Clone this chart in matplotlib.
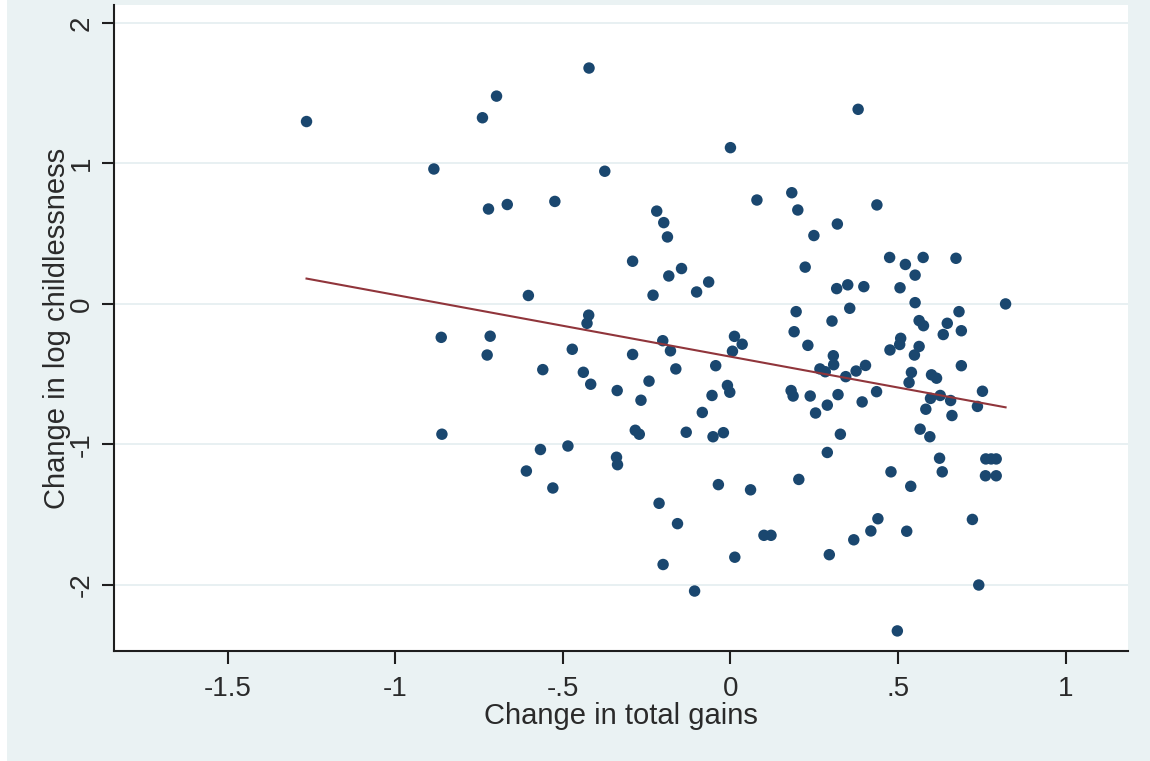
import numpy as np
import matplotlib
matplotlib.use("Agg")
import matplotlib.pyplot as plt
from matplotlib.patches import Rectangle

# ---- data ----
gains = [
    -1.265, -0.422, -0.698, -0.740, 0.000, 0.381, -0.885, -0.375, -0.722, -0.666,
    -0.524, 0.079, -0.220, -0.199, -0.188, -0.292, -0.146, -0.184, -0.065, -0.101,
    -0.231, -0.603, -0.423, -0.428, -0.863, -0.717, -0.726, -0.472, -0.292, -0.202,
    -0.179, 0.012, 0.035, 0.006, -0.044, -0.163, -0.560, -0.439, -0.417, -0.338,
    -0.243, -0.267, -0.009, -0.002, -0.055, -0.084, -0.284, -0.272, -0.132, -0.052,
    -0.021, -0.861, -0.567, -0.485, -0.609, -0.530, -0.340, -0.337, -0.036, 0.060,
    -0.213, -0.158, 0.100, 0.121, 0.013, -0.201, -0.107, 0.183, 0.201, 0.437,
    0.319, 0.249, 0.223, 0.475, 0.522, 0.575, 0.673, 0.551, 0.317, 0.350,
    0.398, 0.506, 0.551, 0.821, 0.196, 0.356, 0.303, 0.682, 0.563, 0.576,
    0.647, 0.190, 0.635, 0.689, 0.231, 0.508, 0.505, 0.476, 0.563, 0.549,
    0.307, 0.308, 0.267, 0.283, 0.344, 0.375, 0.403, 0.689, 0.540, 0.533,
    0.600, 0.615, 0.181, 0.187, 0.238, 0.321, 0.289, 0.254, 0.393, 0.436,
    0.597, 0.626, 0.657, 0.752, 0.737, 0.583, 0.661, 0.328, 0.289, 0.204,
    0.566, 0.595, 0.624, 0.632, 0.479, 0.538, 0.762, 0.778, 0.793, 0.761,
    0.793, 0.440, 0.419, 0.368, 0.295, 0.526, 0.722, 0.741, 0.498,
]
childless = [
    1.298, 1.679, 1.479, 1.325, 1.112, 1.385, 0.960, 0.944, 0.675, 0.707,
    0.729, 0.739, 0.660, 0.578, 0.476, 0.303, 0.251, 0.198, 0.155, 0.084,
    0.061, 0.059, -0.081, -0.139, -0.239, -0.231, -0.365, -0.324, -0.361, -0.263,
    -0.335, -0.232, -0.288, -0.338, -0.441, -0.464, -0.469, -0.488, -0.573, -0.618,
    -0.551, -0.687, -0.582, -0.630, -0.653, -0.774, -0.901, -0.929, -0.915, -0.947,
    -0.918, -0.929, -1.038, -1.013, -1.191, -1.312, -1.093, -1.146, -1.288, -1.325,
    -1.421, -1.566, -1.649, -1.649, -1.805, -1.857, -2.046, 0.791, 0.668, 0.704,
    0.568, 0.486, 0.261, 0.330, 0.280, 0.330, 0.324, 0.204, 0.108, 0.135,
    0.122, 0.114, 0.008, -0.001, -0.056, -0.032, -0.123, -0.056, -0.120, -0.156,
    -0.139, -0.199, -0.219, -0.192, -0.296, -0.246, -0.290, -0.329, -0.304, -0.365,
    -0.370, -0.434, -0.464, -0.484, -0.519, -0.479, -0.439, -0.441, -0.489, -0.561,
    -0.506, -0.530, -0.618, -0.657, -0.657, -0.647, -0.722, -0.778, -0.699, -0.626,
    -0.674, -0.653, -0.689, -0.623, -0.731, -0.751, -0.796, -0.929, -1.059, -1.251,
    -0.893, -0.947, -1.100, -1.197, -1.197, -1.300, -1.105, -1.105, -1.105, -1.225,
    -1.225, -1.531, -1.618, -1.681, -1.787, -1.620, -1.536, -2.003, -2.330,
]
xtick_vals = [-1.5, -1, -0.5, 0, 0.5, 1]
xtick_labels = ["-1.5", "-1", "-.5", "0", ".5", "1"]
ytick_vals = [-2, -1, 0, 1, 2]
ytick_labels = ["-2", "-1", "0", "1", "2"]
xlabel = "Change in total gains"
ylabel = "Change in log childlessness"

# ---- styling ----
plt.rcParams['font.family'] = ['Liberation Sans', 'DejaVu Sans']
BG = "#EAF2F3"
NAVY = "#1a476f"
MAROON = "#90353b"
TXT = "#2a2a2a"

W, H = 1150, 761
fig = plt.figure(figsize=(W / 100, H / 100), dpi=100, facecolor=BG)
fig.patches.append(Rectangle((0, 0), 7 / W, 1, transform=fig.transFigure,
                             facecolor="white", edgecolor="none", zorder=0))

L, R, B, T = 114, 1128, 651, 5
ax = fig.add_axes([L / W, (H - B) / H, (R - L) / W, (B - T) / H])
ax.set_facecolor("white")

x = np.array(gains)
y = np.array(childless)

ax.scatter(x, y, s=68, color=NAVY, edgecolors="none", zorder=3)

slope, intercept = np.polyfit(x, y, 1)
xf = np.array([x.min(), x.max()])
ax.plot(xf, intercept + slope * xf, color=MAROON, lw=1.5, zorder=4)

ax.set_xlim(-1.8395, 1.1863)
ax.set_ylim(-2.473, 2.128)

ax.set_xticks(xtick_vals)
ax.set_xticklabels(xtick_labels)
ax.set_yticks(ytick_vals)
ax.set_yticklabels(ytick_labels)

ax.grid(axis="y", color="#E4EEF0", lw=1.2, zorder=0)
ax.set_axisbelow(True)

for s in ["top", "right"]:
    ax.spines[s].set_visible(False)
for s in ["left", "bottom"]:
    ax.spines[s].set_color("#1e1e1e")
    ax.spines[s].set_linewidth(1.5)

ax.tick_params(axis="x", length=9, width=1.5, color="#1e1e1e",
               labelsize=20, labelcolor=TXT, pad=9)
ax.tick_params(axis="y", length=9, width=1.5, color="#1e1e1e",
               labelsize=20, labelcolor=TXT, pad=5, labelrotation=90)
for lab in ax.get_yticklabels():
    lab.set_va("center")

fig.text(621 / W, (H - 724) / H, xlabel, ha="center", va="baseline",
         fontsize=21, color=TXT)
fig.text(57 / W, (H - 328) / H, ylabel, ha="center", va="center",
         rotation=90, fontsize=21, color=TXT)

fig.savefig("out.png", dpi=100, facecolor=BG)
